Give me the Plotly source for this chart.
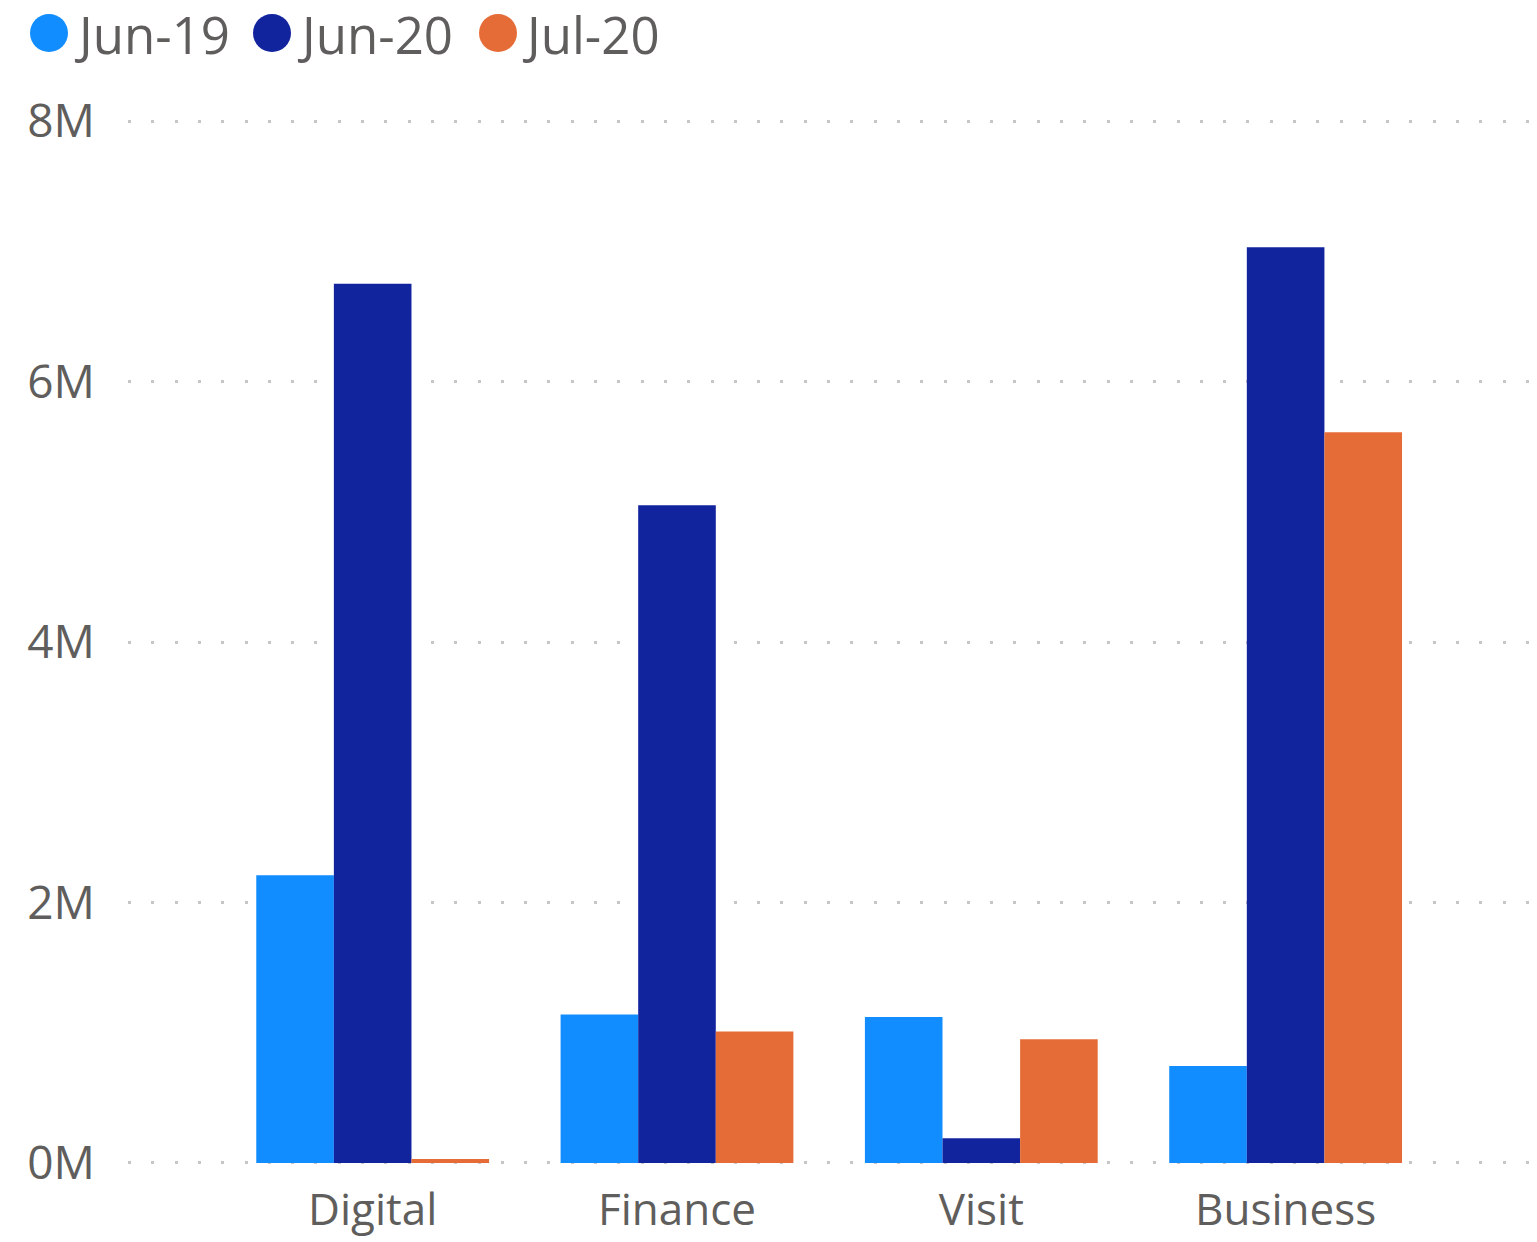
import plotly.graph_objects as go

categories = ["Digital", "Finance", "Visit", "Business"]
series_names = ["Jun-19", "Jun-20", "Jul-20"]
jun19 = [2.21, 1.14, 1.12, 0.745]
jun20 = [6.75, 5.05, 0.19, 7.03]
jul20 = [0.03, 1.01, 0.95, 5.61]
y_tick_vals = [0, 2, 4, 6, 8]
y_tick_text = ["0M", "2M", "4M", "6M", "8M"]

colors = ["#118DFF", "#12239E", "#E66C37"]
text_color = "#605E5C"
font_family = "Open Sans, Noto Sans, DejaVu Sans"

W, H = 1537, 1242
ml, mr, mt, mb = 128, 0, 119, 77
pw, ph = W - ml - mr, H - mt - mb

fig = go.Figure()
for name, vals, col in zip(series_names, [jun19, jun20, jul20], colors):
    fig.add_trace(go.Bar(x=categories, y=vals, name=name, marker_color=col,
                         marker_line_width=0, showlegend=False))

# manual legend with large circular markers (page pixel positions)
legend_circle_x = [49, 272, 498]
legend_text_x = [73, 296, 521]
legend_y = 34
r = 19


def px_to_paper_x(px):
    return (px - ml) / pw


def px_to_paper_y(py):
    return (H - mb - py) / ph


for name, col, cx, tx in zip(series_names, colors, legend_circle_x, legend_text_x):
    fig.add_shape(type="circle", xref="paper", yref="paper",
                  x0=px_to_paper_x(cx - r), x1=px_to_paper_x(cx + r),
                  y0=px_to_paper_y(legend_y - 1 + r), y1=px_to_paper_y(legend_y - 1 - r),
                  fillcolor=col, line_width=0)
    fig.add_annotation(text=name, xref="paper", yref="paper",
                       x=px_to_paper_x(tx), y=px_to_paper_y(legend_y),
                       xanchor="left", yanchor="middle", showarrow=False, borderpad=0,
                       font=dict(family=font_family, size=51, color=text_color))

fig.update_layout(
    width=W, height=H,
    margin=dict(l=ml, r=mr, t=mt, b=mb, pad=0),
    paper_bgcolor="white", plot_bgcolor="white",
    barmode="group", bargap=0.235, bargroupgap=0,
    font=dict(family=font_family, color=text_color),
)
# small padding beyond category/value extents keeps the 0M and 8M gridlines visible
fig.update_xaxes(range=[-0.804, 3.826], showgrid=False, zeroline=False, showline=False,
                 ticks="", tickfont=dict(size=44, color=text_color), ticklabelstandoff=15)
fig.update_yaxes(range=[-0.0154, 8.0154], tickvals=y_tick_vals, ticktext=y_tick_text,
                 showgrid=True, gridcolor="#C8C6C4", gridwidth=3, griddash="3px,20.3px",
                 zeroline=False, showline=False, ticks="",
                 tickfont=dict(size=46, color=text_color), ticklabelstandoff=32)

fig.write_html("out.html", config={"displayModeBar": False},
               post_script="document.body.style.margin='0';")
